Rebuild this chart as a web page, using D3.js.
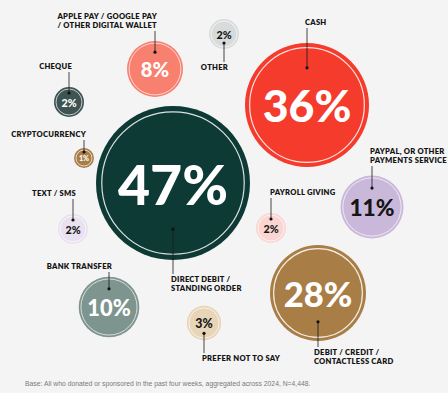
<!DOCTYPE html>
<html>
<head>
<meta charset="utf-8">
<script src="https://cdn.jsdelivr.net/npm/d3@7"></script>
<style>
  html, body { margin: 0; padding: 0; background: #f4f4f4; }
  svg { display: block; }
</style>
</head>
<body>
<div id="chart"></div>
<script>
var width = 448;
var height = 393;

// data
var keys = ["direct", "cash", "card", "paypal", "bank", "wallet", "prefer", "other", "cheque", "sms", "payroll", "crypto"];
var labels = [
    ["DIRECT DEBIT /", "STANDING ORDER"],
    ["CASH"],
    ["DEBIT / CREDIT /", "CONTACTLESS CARD"],
    ["PAYPAL, OR OTHER", "PAYMENTS SERVICE"],
    ["BANK TRANSFER"],
    ["APPLE PAY / GOOGLE PAY", "/ OTHER DIGITAL WALLET"],
    ["PREFER NOT TO SAY"],
    ["OTHER"],
    ["CHEQUE"],
    ["TEXT / SMS"],
    ["PAYROLL GIVING"],
    ["CRYPTOCURRENCY"]
];
var values = [47, 36, 28, 11, 10, 8, 3, 2, 2, 2, 2, 1];
var footnote = "Base: All who donated or sponsored in the past four weeks, aggregated across 2024, N=4,448.";

// hand placed layout of the infographic
var layout = {
    direct:  {cx: 173, cy: 183, lx: 171, ly: 282, anchor: "start", side: "below", fill: "#0e3a35", ink: "#fff"},
    cash:    {cx: 307, cy: 105, lx: 305, ly: 25,  anchor: "start", side: "above", fill: "#f43b2c", ink: "#fff"},
    card:    {cx: 318, cy: 293, lx: 314, ly: 355, anchor: "start", side: "below", fill: "#a97d46", ink: "#fff"},
    paypal:  {cx: 372, cy: 207, lx: 370, ly: 154, anchor: "start", side: "above", fill: "#c9b8da", ink: "#151515"},
    bank:    {cx: 109, cy: 307, lx: 112, ly: 269, anchor: "end",   side: "above", fill: "#7e958f", ink: "#fff"},
    wallet:  {cx: 155, cy: 69,  lx: 157, ly: 19,  anchor: "end",   side: "above", fill: "#f8806f", ink: "#fff"},
    prefer:  {cx: 204, cy: 323, lx: 202, ly: 361, anchor: "start", side: "below", fill: "#e8d4b6", ink: "#151515"},
    other:   {cx: 224, cy: 34,  lx: 228, ly: 70,  anchor: "end",   side: "below", fill: "#d8dbdb", ink: "#151515"},
    cheque:  {cx: 69,  cy: 102, lx: 72,  ly: 69,  anchor: "end",   side: "above", fill: "#3d5452", ink: "#fff"},
    sms:     {cx: 73,  cy: 229, lx: 76,  ly: 196, anchor: "end",   side: "above", fill: "#e9e1ef", ink: "#151515"},
    payroll: {cx: 271, cy: 228, lx: 270, ly: 195, anchor: "start", side: "above", fill: "#fbd5d2", ink: "#151515"},
    crypto:  {cx: 84,  cy: 158, lx: 86,  ly: 137, anchor: "end",   side: "above", fill: "#a97d46", ink: "#fff"}
};

// bubble sizes in the original are not strictly by area, so a piecewise scale
var r = d3.scaleLinear()
    .domain([0, 1, 2, 8, 11, 28, 36, 47])
    .range([0, 10, 15, 28, 31.5, 48, 62, 77]);

var lineGap = 9;

var svg = d3.select("#chart")
    .append("svg")
    .attr("width", width)
    .attr("height", height);

svg.append("rect")
    .attr("width", width)
    .attr("height", height)
    .attr("fill", "#f4f4f4");

var rows = keys.map(function(k, i) {
    return {key: k, label: labels[i], value: values[i], pos: layout[k]};
});

var g = svg.selectAll(".bubble")
    .data(rows)
    .enter()
    .append("g")
    .attr("class", "bubble");

g.append("circle")
    .attr("cx", function(d) { return d.pos.cx; })
    .attr("cy", function(d) { return d.pos.cy; })
    .attr("r", function(d) { return r(d.value); })
    .attr("fill", function(d) { return d.pos.fill; });

// thin inner ring
g.append("circle")
    .attr("cx", function(d) { return d.pos.cx; })
    .attr("cy", function(d) { return d.pos.cy; })
    .attr("r", function(d) { return r(d.value) - Math.max(2, r(d.value) * 0.075); })
    .attr("fill", "none")
    .attr("stroke", "#fff")
    .attr("stroke-opacity", 0.85)
    .attr("stroke-width", function(d) { return d.value > 20 ? 1.2 : 0.8; });

g.append("text")
    .attr("x", function(d) { return d.pos.cx; })
    .attr("y", function(d) { return d.pos.cy; })
    .attr("text-anchor", "middle")
    .attr("dominant-baseline", "central")
    .attr("font-family", "Lato, 'Open Sans', sans-serif")
    .attr("font-weight", 900)
    .attr("font-size", function(d) { return r(d.value) * 0.72; })
    .attr("fill", function(d) { return d.pos.ink; })
    .text(function(d) { return d.value + "%"; });

// connectors
function dotY(d) {
    var off = r(d.value) * 0.6;
    return d.pos.side == "above" ? d.pos.cy - off : d.pos.cy + off;
}
function labelEndY(d) {
    if (d.pos.side == "above") return d.pos.ly + (d.label.length - 1) * lineGap + 3;
    return d.pos.ly - 8;
}

g.append("line")
    .attr("x1", function(d) { return d.pos.cx; })
    .attr("x2", function(d) { return d.pos.cx; })
    .attr("y1", dotY)
    .attr("y2", labelEndY)
    .attr("stroke", "#1a1a1a")
    .attr("stroke-width", 0.8);

g.append("circle")
    .attr("cx", function(d) { return d.pos.cx; })
    .attr("cy", dotY)
    .attr("r", 1.6)
    .attr("fill", "#111");

g.append("text")
    .attr("text-anchor", function(d) { return d.pos.anchor; })
    .attr("font-family", "Lato, 'Open Sans', sans-serif")
    .attr("font-weight", 800)
    .attr("font-size", 7.6)
    .attr("letter-spacing", 0.25)
    .attr("fill", "#141414")
    .selectAll("tspan")
    .data(function(d) { return d.label.map(function(t, j) { return {t: t, x: d.pos.lx, y: d.pos.ly + j * lineGap}; }); })
    .enter()
    .append("tspan")
    .attr("x", function(t) { return t.x; })
    .attr("y", function(t) { return t.y; })
    .text(function(t) { return t.t; });

svg.append("text")
    .attr("x", 25)
    .attr("y", 386)
    .attr("font-family", "'Liberation Sans', Arial, sans-serif")
    .attr("font-size", 6.8)
    .attr("fill", "#7a7a7a")
    .text(footnote);
</script>
</body>
</html>
